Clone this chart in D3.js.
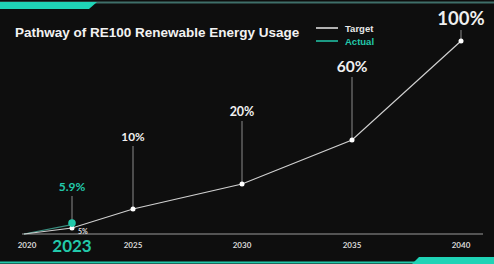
<!DOCTYPE html>
<html>
<head>
<meta charset="utf-8">
<script src="https://cdn.jsdelivr.net/npm/d3@7/dist/d3.min.js"></script>
<style>
  html, body { margin: 0; padding: 0; background: #0e0e0e; }
  svg { display: block; }
</style>
</head>
<body>
<svg id="chart" width="494" height="264"></svg>
<script>
// data
const years = [2020, 2023, 2025, 2030, 2035, 2040];
const targetValues = [0, 5, 10, 20, 60, 100];
const actualYears = [2020, 2023];
const actualValues = [0, 5.9];
const tickLabels = ["2020", "2023", "2025", "2030", "2035", "2040"];

const teal = "#22c9ab";
const svg = d3.select("#chart");

// background
svg.append("rect").attr("width", 494).attr("height", 264).attr("fill", "#0e0e0e");

// decorative top / bottom bars
svg.append("line").attr("x1", 0).attr("x2", 494).attr("y1", 2.5).attr("y2", 2.5)
    .attr("stroke", "#3f6f69").attr("stroke-width", 2);
svg.append("path").attr("d", "M0,2 L97,2 L89,9 L0,9 Z").attr("fill", "#1fd3b6");
svg.append("line").attr("x1", 0).attr("x2", 494).attr("y1", 262.5).attr("y2", 262.5)
    .attr("stroke", teal).attr("stroke-width", 2);
svg.append("path").attr("d", "M419,257 L494,257 L494,264 L412,264 Z").attr("fill", "#1fd3b6");

// scales --> the poster uses an uneven axis, so piecewise scales
const xScale = d3.scaleLinear()
    .domain(years)
    .range([24, 72, 133, 242, 352, 461]);
const yScale = d3.scaleLinear()
    .domain(targetValues)
    .range([234, 228, 209, 184, 140, 41]);

// axis line
svg.append("line")
    .attr("x1", 22).attr("x2", 483)
    .attr("y1", yScale(0)).attr("y2", yScale(0))
    .attr("stroke", "#9a9a9a").attr("stroke-width", 1);

// x tick labels
svg.selectAll(".xlab")
    .data(tickLabels)
    .enter()
    .append("text")
    .attr("class", "xlab")
    .attr("x", (d, i) => xScale(years[i]) + (i === 0 ? 3 : 0))
    .attr("y", d => d === "2023" ? 252 : 248)
    .attr("text-anchor", "middle")
    .attr("font-family", "Lato, 'Open Sans', sans-serif")
    .attr("font-weight", "bold")
    .attr("font-size", d => d === "2023" ? "17px" : "8px")
    .attr("fill", d => d === "2023" ? teal : "#d8d8d8")
    .text(d => d);

// lines
const line = d3.line()
    .x(d => xScale(d[0]))
    .y(d => yScale(d[1]));

const target = years.map((y, i) => [y, targetValues[i]]);
const actual = actualYears.map((y, i) => [y, actualValues[i]]);

svg.append("path")
    .datum(actual)
    .attr("d", line)
    .attr("fill", "none")
    .attr("stroke", "#3a8f80")
    .attr("stroke-width", 1.2);

svg.append("path")
    .datum(target)
    .attr("d", line)
    .attr("fill", "none")
    .attr("stroke", "#d0d0d0")
    .attr("stroke-width", 1.2);

// target labels with drop lines (skip 2020 and 2023)
const labelled = target.filter(d => d[0] >= 2025);
const labelY = d => Math.max(yScale(d[1]) - 68, 25);
const labelSize = d => 11 + d[1] * 0.075;

svg.selectAll(".drop")
    .data(labelled)
    .enter()
    .append("line")
    .attr("x1", d => xScale(d[0])).attr("x2", d => xScale(d[0]))
    .attr("y1", d => labelY(d) + 5)
    .attr("y2", d => yScale(d[1]))
    .attr("stroke", "#8a8a8a")
    .attr("stroke-width", 1);

svg.selectAll(".pct")
    .data(labelled)
    .enter()
    .append("text")
    .attr("x", d => xScale(d[0]))
    .attr("y", labelY)
    .attr("text-anchor", "middle")
    .attr("font-family", "Lato, 'Open Sans', sans-serif")
    .attr("font-weight", "bold")
    .attr("font-size", d => labelSize(d) + "px")
    .attr("fill", "#f0f0f0")
    .text(d => d[1] + "%");

// target points
svg.selectAll(".tdot")
    .data(target.filter(d => d[0] > 2020))
    .enter()
    .append("circle")
    .attr("cx", d => xScale(d[0]))
    .attr("cy", d => yScale(d[1]))
    .attr("r", 2.5)
    .attr("fill", "#ffffff");

// 2023 target label
svg.append("text")
    .attr("x", xScale(2023) + 6)
    .attr("y", yScale(5) + 6)
    .attr("font-family", "Lato, 'Open Sans', sans-serif")
    .attr("font-weight", "bold")
    .attr("font-size", "7px")
    .attr("fill", "#e0e0e0")
    .text("5%");

// actual point + label
svg.append("line")
    .attr("x1", xScale(2023)).attr("x2", xScale(2023))
    .attr("y1", 196).attr("y2", yScale(5.9))
    .attr("stroke", "#8a8a8a").attr("stroke-width", 1);
svg.append("circle")
    .attr("cx", xScale(2023))
    .attr("cy", yScale(5.9) - 1.5)
    .attr("r", 3.8)
    .attr("fill", teal);
svg.append("text")
    .attr("x", xScale(2023))
    .attr("y", 191)
    .attr("text-anchor", "middle")
    .attr("font-family", "Lato, 'Open Sans', sans-serif")
    .attr("font-weight", "bold")
    .attr("font-size", "12px")
    .attr("fill", teal)
    .text("5.9%");

// title
svg.append("text")
    .attr("x", 15).attr("y", 37)
    .attr("font-family", "'Liberation Sans', Arial, sans-serif")
    .attr("font-weight", "bold")
    .attr("font-size", "13.5px")
    .attr("fill", "#f2f2f2")
    .text("Pathway of RE100 Renewable Energy Usage");

// legend
const legend = [["Target", "#e8e8e8"], ["Actual", teal]];
const lg = svg.selectAll(".lg").data(legend).enter().append("g")
    .attr("transform", (d, i) => `translate(316, ${28 + i * 13})`);
lg.append("line").attr("x1", 0).attr("x2", 22).attr("stroke", d => d[1]).attr("stroke-width", 1.5);
lg.append("text").attr("x", 29).attr("y", 3.5)
    .attr("font-family", "'Liberation Sans', Arial, sans-serif")
    .attr("font-weight", "bold")
    .attr("font-size", "9.5px")
    .attr("fill", d => d[1])
    .text(d => d[0]);
</script>
</body>
</html>
